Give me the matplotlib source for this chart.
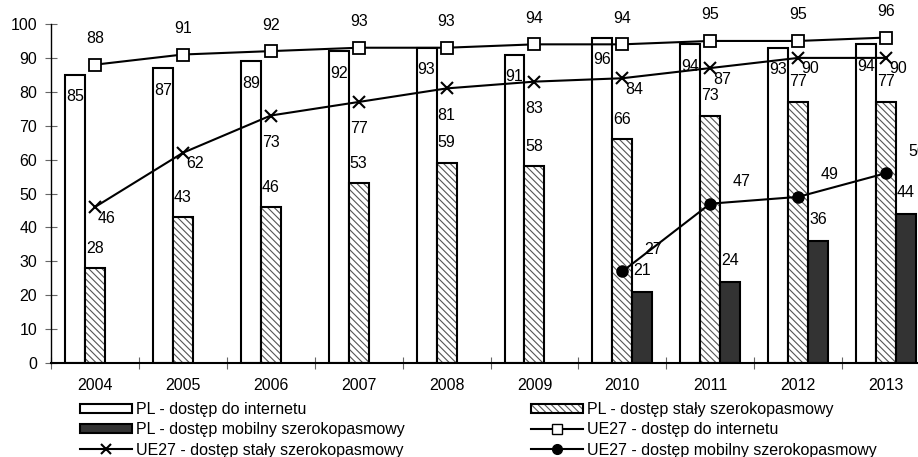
import numpy as np
import matplotlib.pyplot as plt
from matplotlib.patches import Patch
from matplotlib.lines import Line2D

plt.rcParams['font.family'] = ['Liberation Sans', 'DejaVu Sans']
plt.rcParams['hatch.linewidth'] = 0.8

# data
years = ['2004', '2005', '2006', '2007', '2008', '2009', '2010', '2011', '2012', '2013']
pl_internet = [85, 87, 89, 92, 93, 91, 96, 94, 93, 94]
pl_fixed = [28, 43, 46, 53, 59, 58, 66, 73, 77, 77]
pl_mobile = [np.nan, np.nan, np.nan, np.nan, np.nan, np.nan, 21, 24, 36, 44]
ue_internet = [88, 91, 92, 93, 93, 94, 94, 95, 95, 96]
ue_fixed = [46, 62, 73, 77, 81, 83, 84, 87, 90, 90]
ue_mobile = [np.nan, np.nan, np.nan, np.nan, np.nan, np.nan, 27, 47, 49, 56]

# where the UE27 fixed labels sit (right-below vs. straight below)
ue_fixed_label_right = [True, True, False, False, False, False, True, True, True, True]

FS = 11.5

fig = plt.figure(figsize=(9.18, 4.57), dpi=100)
ax = fig.add_axes([51 / 918, 94 / 457, 879 / 918, 339 / 457])

x = np.arange(len(years))
w = 0.227
dark = '#333333'
hatch = '\\' * 5


def label(xv, yv, text, dx, dy, ha='center'):
    ax.annotate(text, (xv, yv), xytext=(dx, dy), textcoords='offset pixels',
                ha=ha, va='center', fontsize=FS, annotation_clip=False)


# Bars
ax.bar(x - w, pl_internet, w, color='white', edgecolor='black', linewidth=1.5, zorder=2)
ax.bar(x, pl_fixed, w, color='white', edgecolor='#555555', linewidth=0, hatch=hatch, zorder=2)
ax.bar(x, pl_fixed, w, fill=False, edgecolor='black', linewidth=1.5, zorder=2)
mob = ~np.isnan(np.array(pl_mobile, dtype=float))
ax.bar(x[mob] + w, np.array(pl_mobile)[mob], w, color=dark, edgecolor='black', linewidth=1.5, zorder=2)

# Lines
ax.plot(x, ue_internet, color='black', lw=1.5, marker='s', ms=8, mfc='white', mec='black', mew=1.3, zorder=4)
ax.plot(x, ue_fixed, color='black', lw=1.5, marker='x', ms=8, mew=1.5, zorder=4)
ax.plot(x, ue_mobile, color='black', lw=1.5, marker='o', ms=8, mfc='black', mec='black', zorder=4)

# Value labels
for i in range(len(years)):
    label(x[i] - w, pl_internet[i], str(pl_internet[i]), 0, -22)
    label(x[i], pl_fixed[i], str(pl_fixed[i]), 0, 20)
    if not np.isnan(pl_mobile[i]):
        label(x[i] + w, pl_mobile[i], str(int(pl_mobile[i])), 0, 21)
    label(x[i], ue_internet[i], str(ue_internet[i]), 0, 26)
    if ue_fixed_label_right[i]:
        label(x[i], ue_fixed[i], str(ue_fixed[i]), 12, -11)
    else:
        label(x[i], ue_fixed[i], str(ue_fixed[i]), 0, -27)
    if not np.isnan(ue_mobile[i]):
        label(x[i], ue_mobile[i], str(int(ue_mobile[i])), 31, 22)

# Axes styling
ax.set_xlim(-0.5, len(years) - 0.5)
ax.set_ylim(0, 100)
ax.set_yticks(range(0, 101, 10))
ax.set_xticks(np.arange(-0.5, len(years), 1.0))
ax.set_xticklabels([])
ax.set_xticks(x, minor=True)
ax.set_xticklabels(years, minor=True)
ax.tick_params(axis='x', which='major', direction='inout', length=8, width=0.8, color='#666666')
ax.tick_params(axis='x', which='minor', length=0, pad=11, labelsize=FS)
ax.tick_params(axis='y', direction='inout', length=8, width=0.8, color='#666666', pad=6, labelsize=FS)
ax.spines['top'].set_visible(False)
ax.spines['right'].set_visible(False)
ax.spines['left'].set_linewidth(1.0)
ax.spines['bottom'].set_linewidth(1.5)

# Legend
h_int = Patch(facecolor='white', edgecolor='black', linewidth=1.5)
h_fix = (Patch(facecolor='white', edgecolor='#555555', linewidth=0, hatch=hatch),
         Patch(fill=False, edgecolor='black', linewidth=1.5))
h_mob = Patch(facecolor=dark, edgecolor='black', linewidth=1.5)
l_int = Line2D([], [], color='black', lw=1.5, marker='s', ms=7, mfc='white', mec='black')
l_fix = Line2D([], [], color='black', lw=1.5, marker='x', ms=7, mew=1.5)
l_mob = Line2D([], [], color='black', lw=1.5, marker='o', ms=7, mfc='black')

handles = [h_int, h_mob, l_fix, h_fix, l_int, l_mob]
labels = ['PL - dostęp do internetu', 'PL - dostęp mobilny szerokopasmowy',
          'UE27 - dostęp stały szerokopasmowy', 'PL - dostęp stały szerokopasmowy',
          'UE27 - dostęp do internetu', 'UE27 - dostęp mobilny szerokopasmowy']
fig.legend(handles, labels, ncol=2, loc='upper left', bbox_to_anchor=(80 / 918, 1 - 402 / 457),
           frameon=False, fontsize=FS, borderpad=0, borderaxespad=0, labelspacing=0.33,
           handlelength=3.25, handletextpad=0.25, columnspacing=7.9, handleheight=0.5)

fig.savefig('out.png', dpi=100)
